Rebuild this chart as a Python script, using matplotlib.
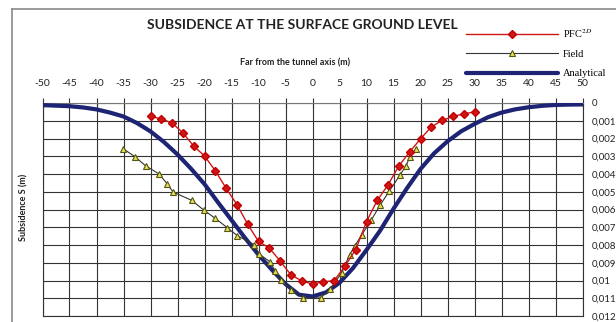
import numpy as np
import matplotlib
matplotlib.use("Agg")
import matplotlib.pyplot as plt
from matplotlib.lines import Line2D

plt.rcParams['font.family'] = ['Lato', 'DejaVu Sans']
plt.rcParams['mathtext.fontset'] = 'stix'

# PFC 2D model (red diamonds)
pfc_x = [-30, -28, -26, -24, -22, -20, -18, -16, -14, -12, -10, -8, -6, -4, -2, 0,
         2, 4, 6, 8, 10, 12, 14, 16, 18, 20, 22, 24, 26, 28, 30]
pfc_s = [0.00076, 0.00089, 0.00113, 0.00168, 0.00243, 0.00298, 0.00382, 0.0048,
         0.00572, 0.00683, 0.0078, 0.00817, 0.0089, 0.00968, 0.01002, 0.0102,
         0.01007, 0.01002, 0.00919, 0.00826, 0.00669, 0.00548, 0.00461, 0.00354,
         0.00276, 0.00202, 0.00135, 0.00098, 0.00076, 0.00061, 0.0005]

# field measurements (yellow triangles)
field_x = [-35.1, -32.9, -30.9, -28.4, -26.9, -25.8, -22.4, -20.1, -18.0, -15.8,
           -13.9, -10.8, -9.9, -7.9, -6.9, -5.9, -3.9, -1.7, 1.5, 3.3, 5.4, 6.9,
           7.8, 9.1, 10.9, 12.5, 14.2, 16.2, 17.3, 18.0, 19.2]
field_s = [0.00257, 0.00302, 0.00354, 0.004, 0.00456, 0.00502, 0.00548, 0.00604,
           0.0065, 0.00702, 0.00748, 0.00798, 0.0085, 0.00894, 0.00946, 0.00998,
           0.01052, 0.01098, 0.01098, 0.01048, 0.00956, 0.00854, 0.00807, 0.00743,
           0.00659, 0.00576, 0.00498, 0.00406, 0.00354, 0.00307, 0.00257]

# analytical curve (navy)
ana_x = [-50, -47.5, -45, -42.5, -40, -37.5, -35, -32.5, -30, -27.5, -25, -22.5,
         -20, -17.5, -15, -12.5, -10, -7.5, -5, -2.5, 0, 2.5, 5, 7.5, 10, 12.5,
         15, 17.5, 20, 22.5, 25, 27.5, 30, 32.5, 35, 37.5, 40, 42.5, 45, 47.5, 50]
ana_s = [0.00012, 0.00015, 0.00018, 0.00025, 0.00036, 0.00054, 0.00076, 0.00113,
         0.0016, 0.0022, 0.0029, 0.0037, 0.00457, 0.0056, 0.0066, 0.0076, 0.00855,
         0.0094, 0.0102, 0.0108, 0.0109, 0.01067, 0.01013, 0.0093, 0.00828, 0.0072,
         0.00596, 0.0048, 0.00372, 0.00284, 0.00216, 0.0016, 0.00118, 0.0008,
         0.00054, 0.00036, 0.00024, 0.00016, 0.00011, 0.00009, 0.00008]

x_ticks = list(range(-50, 51, 5))
y_ticks = [i / 1000 for i in range(13)]
y_labels = ['0', '0,001', '0,002', '0,003', '0,004', '0,005', '0,006',
            '0,007', '0,008', '0,009', '0,01', '0,011', '0,012']

W, H = 616, 322
fig = plt.figure(figsize=(W / 100, H / 100), dpi=100)

# axes box in pixel coords
x0, x1, ytop, ybot = 42.5, 582.5, 103, 316
ax = fig.add_axes([x0 / W, 1 - ybot / H, (x1 - x0) / W, (ybot - ytop) / H])

ax.plot(ana_x, ana_s, color='#1c2473', lw=3, solid_capstyle='round',
        label='Analytical', zorder=3)
ax.plot(field_x, field_s, color='#333333', lw=0.8, marker='^', markersize=5,
        markerfacecolor='#e6e05a', markeredgecolor='#55550f', markeredgewidth=0.8,
        label='Field', zorder=4)
ax.plot(pfc_x, pfc_s, color='#d01515', lw=1.0, marker='D', markersize=4,
        markerfacecolor='#d01515', markeredgecolor='#c00000',
        label='PFC$^{2D}$', zorder=5)

ax.set_xlim(-50, 50)
ax.set_ylim(0.012, 0)
ax.set_xticks(x_ticks)
ax.set_xticklabels([str(t) for t in x_ticks])
ax.set_yticks(y_ticks)
ax.set_yticklabels(y_labels)
ax.xaxis.tick_top()
ax.yaxis.tick_right()
ax.tick_params(axis='x', direction='inout', length=7, width=0.8, color='#333333',
               labelsize=7.5, pad=7, labelcolor='#222222')
ax.tick_params(axis='y', length=0, labelsize=7, pad=7, labelcolor='#222222')
for lab in ax.get_yticklabels():
    lab.set_horizontalalignment('left')
ax.grid(True, color='#333333', lw=0.8)
for s in ax.spines.values():
    s.set_color('#333333')
    s.set_linewidth(0.8)
ax.spines['top'].set_color('#777777')

# outer frame
fig.add_artist(Line2D([12 / W, 1], [1 - 9 / H, 1 - 9 / H], color='#8a8a8a', lw=1.2))
fig.add_artist(Line2D([12 / W, 12 / W], [0, 1 - 9 / H], color='#8a8a8a', lw=1.2))

fig.text(302 / W, 1 - 25 / H, 'SUBSIDENCE AT THE SURFACE GROUND LEVEL',
         ha='center', va='center', fontsize=10, fontweight='bold', color='#222222')
fig.text(295 / W, 1 - 63 / H, 'Far from the tunnel axis (m)', ha='center',
         va='center', fontsize=6.5, fontweight='bold', color='#222222')
fig.text(24 / W, 1 - 207 / H, 'Subsidence S (m)', ha='center', va='center',
         rotation=90, fontsize=6.5, fontweight='bold', color='#222222')

handles, labels = ax.get_legend_handles_labels()
leg = fig.legend(handles[::-1], labels[::-1], loc='upper left',
                 bbox_to_anchor=(466 / W, 1 - 27 / H), frameon=False,
                 handlelength=8.8, handletextpad=0.5, labelspacing=0.95,
                 numpoints=1, borderpad=0, borderaxespad=0,
                 prop={'family': 'Liberation Serif', 'size': 7.5})

fig.savefig('out.png', dpi=100)
